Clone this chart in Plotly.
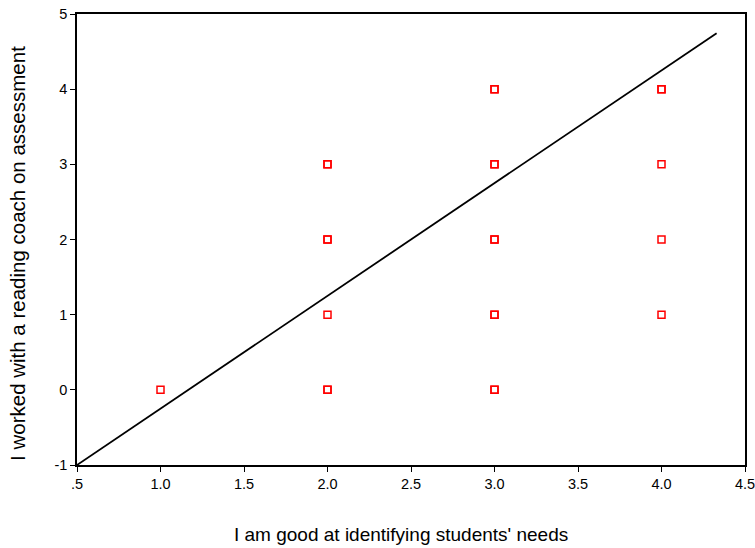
import plotly.graph_objects as go

# data points (duplicates shown as overlaid markers)
x_vals = [1, 2, 2, 2, 2, 2, 2, 2, 3, 3, 3, 3, 3, 3, 3, 3, 3, 3, 4, 4, 4, 4, 4]
y_vals = [0, 0, 0, 1, 2, 2, 3, 3, 0, 0, 1, 1, 2, 2, 3, 3, 4, 4, 1, 2, 3, 4, 4]

# fit line endpoints
fit_x = [0.5, 4.33]
fit_slope = 1.5
fit_intercept = -1.75
fit_y = [fit_slope * v + fit_intercept for v in fit_x]

x_ticks = [0.5, 1.0, 1.5, 2.0, 2.5, 3.0, 3.5, 4.0, 4.5]
x_ticklabels = [".5", "1.0", "1.5", "2.0", "2.5", "3.0", "3.5", "4.0", "4.5"]
y_ticks = [-1, 0, 1, 2, 3, 4, 5]
y_ticklabels = ["-1", "0", "1", "2", "3", "4", "5"]

x_title = "I am good at identifying students' needs"
y_title = "I worked with a reading coach on assessment"

fig = go.Figure()
fig.add_trace(go.Scatter(x=fit_x, y=fit_y, mode="lines",
                         line=dict(color="black", width=1.8), showlegend=False,
                         hoverinfo="skip"))
fig.add_trace(go.Scatter(x=x_vals, y=y_vals, mode="markers",
                         marker=dict(symbol="square-open", size=7, color="#ff0000",
                                     line=dict(width=1.5, color="#ff0000")),
                         showlegend=False))

font_family = "Liberation Sans, Arial, sans-serif"
fig.update_layout(
    width=755, height=548,
    margin=dict(l=77, r=10, t=14, b=83),
    paper_bgcolor="white", plot_bgcolor="white",
    font=dict(family=font_family, color="black", size=14),
    xaxis=dict(range=[0.5, 4.5], tickvals=x_ticks, ticktext=x_ticklabels,
               showgrid=False, zeroline=False, showline=True, linecolor="black",
               linewidth=1.5, mirror=True, ticks="outside", ticklen=5,
               tickcolor="black", tickwidth=1.2, automargin=False,
               ticklabeloverflow="allow", tickfont=dict(size=14.5)),
    yaxis=dict(range=[-1, 5], tickvals=y_ticks, ticktext=y_ticklabels,
               showgrid=False, zeroline=False, showline=True, linecolor="black",
               linewidth=1.5, mirror=True, ticks="outside", ticklen=5,
               tickcolor="black", tickwidth=1.2, automargin=False,
               ticklabeloverflow="allow", tickfont=dict(size=14.5)),
    annotations=[
        dict(text=x_title, xref="paper", yref="paper", x=0.485, y=-0.155,
             xanchor="center", yanchor="middle", showarrow=False,
             font=dict(size=19)),
        dict(text=y_title, xref="paper", yref="paper", x=-0.0883, y=0.468,
             xanchor="center", yanchor="middle", showarrow=False, textangle=-90,
             font=dict(size=20.5)),
    ],
)

fig.write_html(
    "out.html",
    config={"displayModeBar": False},
    post_script="document.body.style.margin='0';document.body.style.padding='0';",
)
